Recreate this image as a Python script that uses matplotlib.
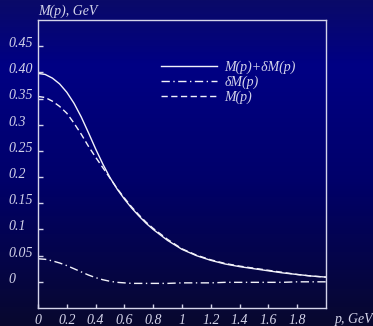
import numpy as np
import matplotlib
matplotlib.use('Agg')
import matplotlib.pyplot as plt
from matplotlib.colors import LinearSegmentedColormap

# данные
p = [0.0, 0.05, 0.1, 0.15, 0.2, 0.25, 0.3, 0.35, 0.4, 0.45, 0.5, 0.55, 0.6, 0.65,
     0.7, 0.75, 0.8, 0.9, 1.0, 1.1, 1.2, 1.3, 1.4, 1.5, 1.6, 1.7, 1.8, 1.9, 2.0]
m_sum = [0.398, 0.396, 0.389, 0.378, 0.362, 0.341, 0.315, 0.285, 0.254, 0.225,
         0.199, 0.177, 0.158, 0.141, 0.126, 0.112, 0.100, 0.079, 0.062,
         0.050, 0.041, 0.034, 0.029, 0.025, 0.021, 0.017, 0.014, 0.011, 0.009]
dm = [0.044, 0.043, 0.040, 0.036, 0.031, 0.025, 0.019, 0.013, 0.008, 0.004,
      0.001, -0.001, -0.002, -0.003, -0.003, -0.003, -0.003, -0.003, -0.002,
      -0.002, -0.002, -0.001, -0.001, -0.001, -0.001, -0.001, 0.000, 0.000, 0.000]
m = [0.354, 0.352, 0.345, 0.335, 0.322, 0.303, 0.282, 0.259, 0.238, 0.218,
     0.198, 0.178, 0.160, 0.143, 0.128, 0.114, 0.102, 0.081, 0.063,
     0.051, 0.042, 0.035, 0.030, 0.026, 0.022, 0.018, 0.014, 0.011, 0.009]

x_ticks = [0, 0.2, 0.4, 0.6, 0.8, 1.0, 1.2, 1.4, 1.6, 1.8]
x_labels = ['0', '0.2', '0.4', '0.6', '0.8', '1', '1.2', '1.4', '1.6', '1.8']
y_ticks = [0, 0.05, 0.1, 0.15, 0.2, 0.25, 0.3, 0.35, 0.40, 0.45]
y_labels = ['0', '0.05', '0.1', '0.15', '0.2', '0.25', '0.3', '0.35', '0.40', '0.45']

txt = '#d4d4ea'
line_c = '#f2f2fa'
fs = 10
plt.rcParams['font.family'] = ['Liberation Serif', 'DejaVu Serif']
plt.rcParams['font.style'] = 'italic'

fig = plt.figure(figsize=(3.73, 3.26), dpi=100)

# градиентный фон
bg = fig.add_axes([0, 0, 1, 1], zorder=-10)
cmap = LinearSegmentedColormap.from_list('bg', [
    (0.0, (10/255, 10/255, 104/255)),
    (0.2, (0, 0, 132/255)),
    (0.55, (0, 0, 106/255)),
    (1.0, (8/255, 8/255, 46/255))])
bg.imshow(np.linspace(0, 1, 256).reshape(-1, 1), aspect='auto', cmap=cmap,
          extent=[0, 1, 1, 0])
bg.set_axis_off()

ax = fig.add_axes([38/373, 1 - 308/326, 288/373, 288/326])
ax.patch.set_alpha(0)

ax.plot(p, m_sum, color=line_c, lw=1.0, label='M(p)+δM(p)')
ax.plot(p, dm, color=line_c, lw=1.0, dashes=(6, 2.5, 1, 2.5), label='δM(p)')
ax.plot(p, m, color=line_c, lw=1.0, dashes=(4.5, 2.5), label='M(p)')

ax.set_xlim(0, 2.0)
ax.set_ylim(-0.05, 0.5)
for s in ['left', 'bottom', 'right', 'top']:
    ax.spines[s].set_color(txt)
    ax.spines[s].set_linewidth(1.0)

ax.set_xticks(x_ticks)
ax.set_xticklabels(x_labels)
ax.set_yticks(y_ticks)
ax.set_yticklabels([''] * len(y_ticks))
ax.tick_params(axis='both', direction='in', length=3, width=1, colors=txt,
               labelsize=fs, pad=4)
ax.tick_params(axis='y', length=3.5)

for v, s in zip(y_ticks, y_labels):
    ax.text(-0.101, v + 0.005, s, transform=ax.get_yaxis_transform(),
            ha='left', va='center', color=txt, fontsize=fs)

fig.text(38/373, 1 - 11/326, 'M(p), GeV', color=txt, fontsize=fs,
         ha='left', va='center')
fig.text(335/373, 1 - 320/326, 'p, GeV', color=txt, fontsize=fs,
         ha='left', va='center')

leg = ax.legend(loc='upper left', bbox_to_anchor=(0.427, 0.858), frameon=False,
                borderpad=0, borderaxespad=0, handlelength=4.0,
                handletextpad=0.55, labelspacing=0.1, fontsize=fs)
for t in leg.get_texts():
    t.set_color(txt)

fig.savefig('out.png', dpi=100)
